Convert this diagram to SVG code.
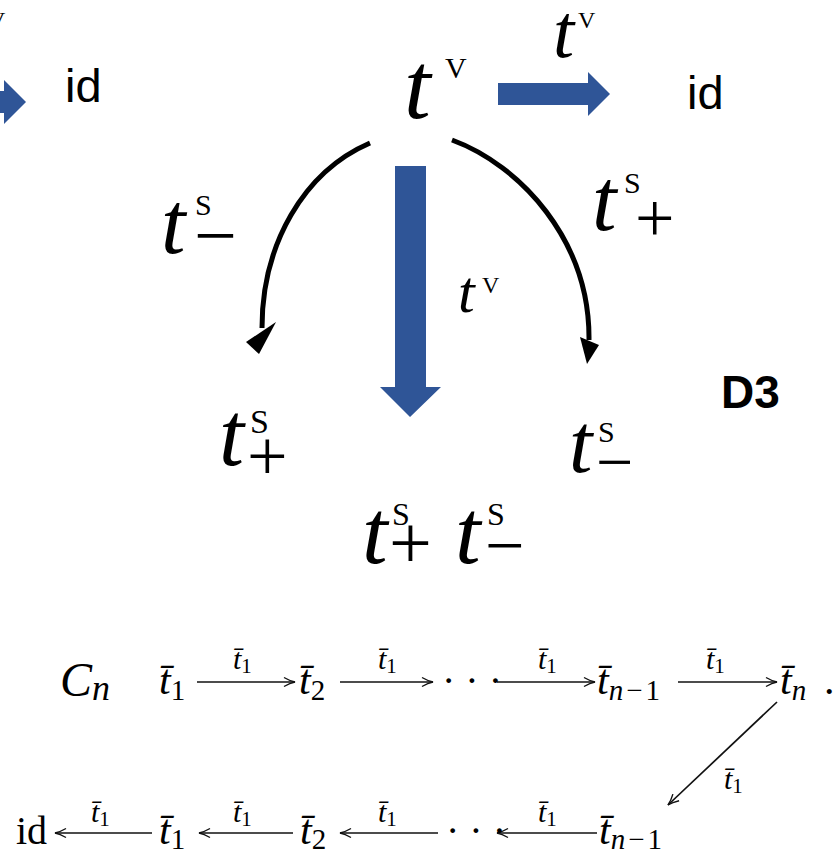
<svg xmlns="http://www.w3.org/2000/svg" width="835" height="854" viewBox="0 0 835 854">
<style>
text{font-family:"Liberation Serif","Times New Roman",serif;fill:#000}
.i{font-style:italic}
.sans{font-family:"Liberation Sans",Arial,sans-serif}
.blue{fill:#2F5597}
.arc{fill:none;stroke:#000;stroke-width:5}
.thin{stroke:#111;stroke-width:1.7;fill:none}
</style>
<defs>
<marker id="ah" markerWidth="14" markerHeight="12" refX="12" refY="6" orient="auto" markerUnits="userSpaceOnUse">
<path d="M1,1.5 Q7,5 12,6 Q7,7 1,10.5" fill="none" stroke="#111" stroke-width="1.4"/>
</marker>
</defs>

<!-- connectors -->
<g id="connectors">
  <!-- left partial blue arrow -->
  <polygon class="blue" points="-80,91 4,91 4,80 26,102 4,124 4,113 -80,113"/>
  <text x="-12" y="28" font-size="24">V</text>
  <!-- right blue arrow -->
  <polygon class="blue" points="498,83 588,83 588,72 610,94 588,116 588,105 498,105"/>
  <g id="label-tv-right"><text x="553" y="57" font-size="76" class="i">t</text><text x="578" y="28" font-size="24">V</text></g>
  <!-- down blue arrow -->
  <polygon class="blue" points="395,166 426,166 426,387 441,387 410,417 380,387 395,387"/>
  <g id="label-tv-mid"><text x="458" y="312" font-size="60" class="i">t</text><text x="482" y="293" font-size="24">V</text></g>
  <!-- left arc -->
  <path class="arc" d="M370,143 C303,172 262,245 262,328"/>
  <polygon points="246,342 276,322 259,354" fill="#000"/>
  <g id="label-ts-minus-left"><text x="161" y="253" font-size="88" class="i">t</text><text x="195" y="215" font-size="30">S</text><text x="194" y="261" font-size="76">−</text></g>
  <!-- right arc -->
  <path class="arc" d="M452,140 C520,165 590,240 589,340"/>
  <polygon points="580,337 599,345 587,364" fill="#000"/>
  <g id="label-ts-plus-right"><text x="592" y="230" font-size="88" class="i">t</text><text x="624" y="193" font-size="30">S</text><text x="635" y="242" font-size="70">+</text></g>

  <!-- bottom chain arrows -->
  <line class="thin" x1="197" y1="682" x2="295" y2="682" marker-end="url(#ah)"/>
  <line class="thin" x1="340" y1="682" x2="433" y2="682" marker-end="url(#ah)"/>
  <line class="thin" x1="497" y1="682" x2="595" y2="682" marker-end="url(#ah)"/>
  <line class="thin" x1="678" y1="682" x2="777" y2="682" marker-end="url(#ah)"/>
  <line class="thin" x1="777" y1="702" x2="668" y2="805" marker-end="url(#ah)"/>
  <line class="thin" x1="152" y1="833" x2="55" y2="833" marker-end="url(#ah)"/>
  <line class="thin" x1="293" y1="833" x2="199" y2="833" marker-end="url(#ah)"/>
  <line class="thin" x1="438" y1="833" x2="340" y2="833" marker-end="url(#ah)"/>
  <line class="thin" x1="597" y1="833" x2="497" y2="833" marker-end="url(#ah)"/>
  <!-- chain arrow labels -->
  <text x="233" y="669" font-size="30"><tspan class="i">t&#x304;</tspan><tspan font-size="21" dy="4">1</tspan></text>
  <text x="378" y="669" font-size="30"><tspan class="i">t&#x304;</tspan><tspan font-size="21" dy="4">1</tspan></text>
  <text x="538" y="669" font-size="30"><tspan class="i">t&#x304;</tspan><tspan font-size="21" dy="4">1</tspan></text>
  <text x="706" y="669" font-size="30"><tspan class="i">t&#x304;</tspan><tspan font-size="21" dy="4">1</tspan></text>
  <text x="724" y="789" font-size="30"><tspan class="i">t&#x304;</tspan><tspan font-size="21" dy="4">1</tspan></text>
  <text x="91" y="822" font-size="30"><tspan class="i">t&#x304;</tspan><tspan font-size="21" dy="4">1</tspan></text>
  <text x="233" y="822" font-size="30"><tspan class="i">t&#x304;</tspan><tspan font-size="21" dy="4">1</tspan></text>
  <text x="378" y="822" font-size="30"><tspan class="i">t&#x304;</tspan><tspan font-size="21" dy="4">1</tspan></text>
  <text x="538" y="822" font-size="30"><tspan class="i">t&#x304;</tspan><tspan font-size="21" dy="4">1</tspan></text>
</g>

<!-- top nodes -->
<g id="node-id-left"><text class="sans" x="65" y="102" font-size="47">id</text></g>
<g id="node-tv-top"><text x="404" y="118" font-size="96" class="i">t</text><text x="445" y="78" font-size="30">V</text></g>
<g id="node-id-right"><text class="sans" x="687" y="109" font-size="47">id</text></g>
<g id="node-ts-plus"><text x="219" y="465" font-size="90" class="i">t</text><text x="250" y="433" font-size="34">S</text><text x="247" y="480" font-size="72">+</text></g>
<g id="node-ts-minus"><text x="569" y="472" font-size="84" class="i">t</text><text x="598" y="442" font-size="30">S</text><text x="596" y="484" font-size="66">−</text></g>
<g id="node-product"><text x="362" y="563" font-size="92" class="i">t</text><text x="392" y="525" font-size="32">S</text><text x="389" y="568" font-size="76">+</text><text x="455" y="563" font-size="92" class="i">t</text><text x="487" y="525" font-size="32">S</text><text x="485" y="569" font-size="70">−</text></g>
<g id="label-D3"><text class="sans" x="721" y="408" font-size="46" font-weight="bold">D3</text></g>

<!-- bottom chain nodes -->
<g id="node-Cn"><text x="60" y="696"><tspan class="i" font-size="48">C</tspan><tspan class="i" font-size="36" dy="4">n</tspan></text></g>
<g id="node-t1-a"><text x="159" y="694" font-size="42"><tspan class="i">t&#x304;</tspan><tspan font-size="29" dy="6">1</tspan></text></g>
<g id="node-t2-a"><text x="299" y="694" font-size="42"><tspan class="i">t&#x304;</tspan><tspan font-size="29" dy="6">2</tspan></text></g>
<g id="node-dots-a"><text x="442" y="694" font-size="40">· · ·</text></g>
<g id="node-tn1-a"><text x="597" y="694" font-size="42"><tspan class="i">t&#x304;</tspan><tspan font-size="29" dy="6"><tspan class="i">n</tspan><tspan dx="3">−</tspan><tspan dx="3">1</tspan></tspan></text></g>
<g id="node-tn-a"><text x="780" y="694" font-size="42"><tspan class="i">t&#x304;</tspan><tspan class="i" font-size="29" dy="6">n</tspan></text><text x="824" y="694" font-size="42">.</text></g>
<g id="node-id-b"><text x="16" y="844" font-size="40">id</text></g>
<g id="node-t1-b"><text x="159" y="844" font-size="42"><tspan class="i">t&#x304;</tspan><tspan font-size="29" dy="5">1</tspan></text></g>
<g id="node-t2-b"><text x="300" y="844" font-size="42"><tspan class="i">t&#x304;</tspan><tspan font-size="29" dy="5">2</tspan></text></g>
<g id="node-dots-b"><text x="446" y="844" font-size="40">· · ·</text></g>
<g id="node-tn1-b"><text x="599" y="844" font-size="42"><tspan class="i">t&#x304;</tspan><tspan font-size="29" dy="5"><tspan class="i">n</tspan><tspan dx="3">−</tspan><tspan dx="3">1</tspan></tspan></text></g>
</svg>
